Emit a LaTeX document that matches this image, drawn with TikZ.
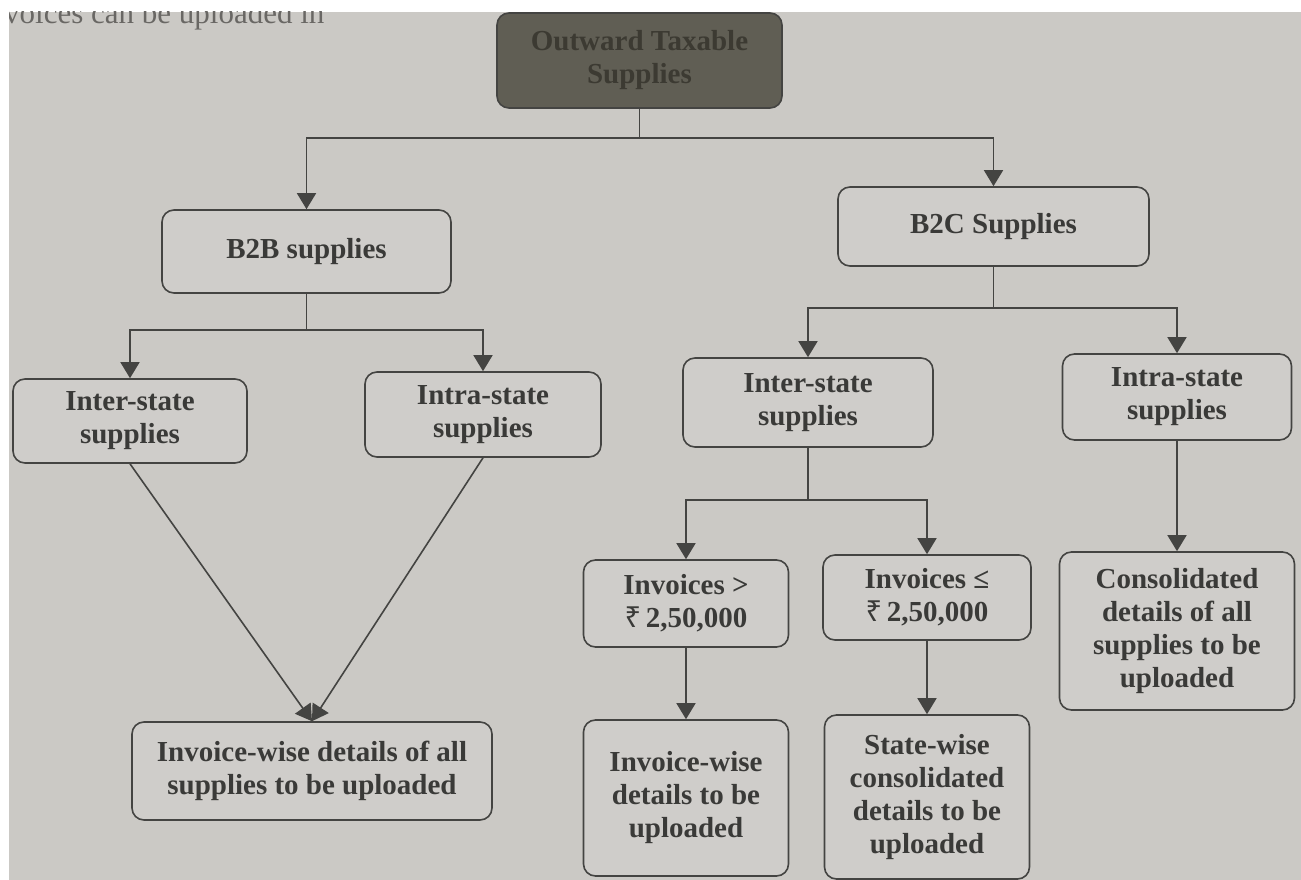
\documentclass[tikz,border=0pt]{standalone}
\usepackage{fontspec}
\setmainfont{Liberation Serif}
\newfontfamily\rupeefont{Noto Sans}
\usetikzlibrary{arrows.meta}
\definecolor{paper}{RGB}{203,201,197}
\definecolor{boxfill}{RGB}{207,205,202}
\definecolor{ink}{RGB}{58,58,56}
\definecolor{linec}{RGB}{68,68,66}
\definecolor{topfill}{RGB}{96,94,84}
\definecolor{toptext}{RGB}{60,58,50}
\definecolor{pagetext}{RGB}{105,103,100}
\begin{document}
\begin{tikzpicture}[x=1pt,y=-1pt,
  box/.style={draw=linec, line width=1.6pt, rounded corners=12pt, fill=boxfill,
    align=center, text=ink, inner sep=0pt,
    font=\bfseries\fontsize{29}{33}\selectfont},
  topbox/.style={box, fill=topfill, text=toptext},
  conn/.style={draw=linec, line width=1.6pt},
  arr/.style={conn, -{Triangle[width=19pt,length=16pt]}}]
% page
\useasboundingbox (0,0) rectangle (1301,880);
\fill[white] (0,0) rectangle (1301,880);
\fill[paper] (9,12) rectangle (1301,880);
\begin{scope}
  \clip (9,12) rectangle (1301,880);
  \node[anchor=base west, text=pagetext, font=\fontsize{31}{33}\selectfont, inner sep=0pt] (pg) at (4,24) {voices can be uploaded in};
\end{scope}
% nodes
\node[topbox, minimum width=285, minimum height=95] (top) at (639.5,60.5) {Outward Taxable\\Supplies};
\node[box, minimum width=289, minimum height=83] (b2b) at (306.5,251.5) {B2B supplies};
\node[box, minimum width=311, minimum height=79] (b2c) at (993.5,226.5) {B2C Supplies};
\node[box, minimum width=234, minimum height=84] (b2bInter) at (130,421) {Inter-state\\supplies};
\node[box, minimum width=236, minimum height=85] (b2bIntra) at (483,414.5) {Intra-state\\supplies};
\node[box, minimum width=250, minimum height=89] (b2cInter) at (808,402.5) {Inter-state\\supplies};
\node[box, minimum width=229, minimum height=86] (b2cIntra) at (1177,397) {Intra-state\\supplies};
\node[box, minimum width=360, minimum height=98] (allInv) at (312,771) {Invoice-wise details of all\\supplies to be uploaded};
\node[box, minimum width=205, minimum height=87] (invGt) at (686,603.5) {Invoices >\\{\rupeefont\bfseries ₹}\,2,50,000};
\node[box, minimum width=208, minimum height=85] (invLe) at (927,597.5) {Invoices ≤\\{\rupeefont\bfseries ₹}\,2,50,000};
\node[box, minimum width=205, minimum height=156] (invWise) at (686,798) {Invoice-wise\\details to be\\uploaded};
\node[box, minimum width=205, minimum height=164] (stateWise) at (927,797) {State-wise\\consolidated\\details to be\\uploaded};
\node[box, minimum width=235, minimum height=158] (consol) at (1177,631) {Consolidated\\details of all\\supplies to be\\uploaded};
% junctions
\coordinate (j1) at (639.5,138);
\coordinate (j2) at (306.5,330);
\coordinate (j3) at (993.5,308);
\coordinate (j4) at (808,500);
% connectors
\draw[conn] (top.south) -- (j1);
\draw[arr] (j1) -| (b2b.north);
\draw[arr] (j1) -| (b2c.north);
\draw[conn] (b2b.south) -- (j2);
\draw[arr] (j2) -| (b2bInter.north);
\draw[arr] (j2) -| (b2bIntra.north);
\draw[conn] (b2c.south) -- (j3);
\draw[arr] (j3) -| (b2cInter.north);
\draw[arr] (j3) -| (b2cIntra.north);
\draw[arr] (b2bInter.south) -- (allInv.north);
\draw[arr] (b2bIntra.south) -- (allInv.north);
\draw[conn] (b2cInter.south) -- (j4);
\draw[arr] (j4) -| (invGt.north);
\draw[arr] (j4) -| (invLe.north);
\draw[arr] (invGt.south) -- (invWise.north);
\draw[arr] (invLe.south) -- (stateWise.north);
\draw[arr] (b2cIntra.south) -- (consol.north);
\end{tikzpicture}
\end{document}
